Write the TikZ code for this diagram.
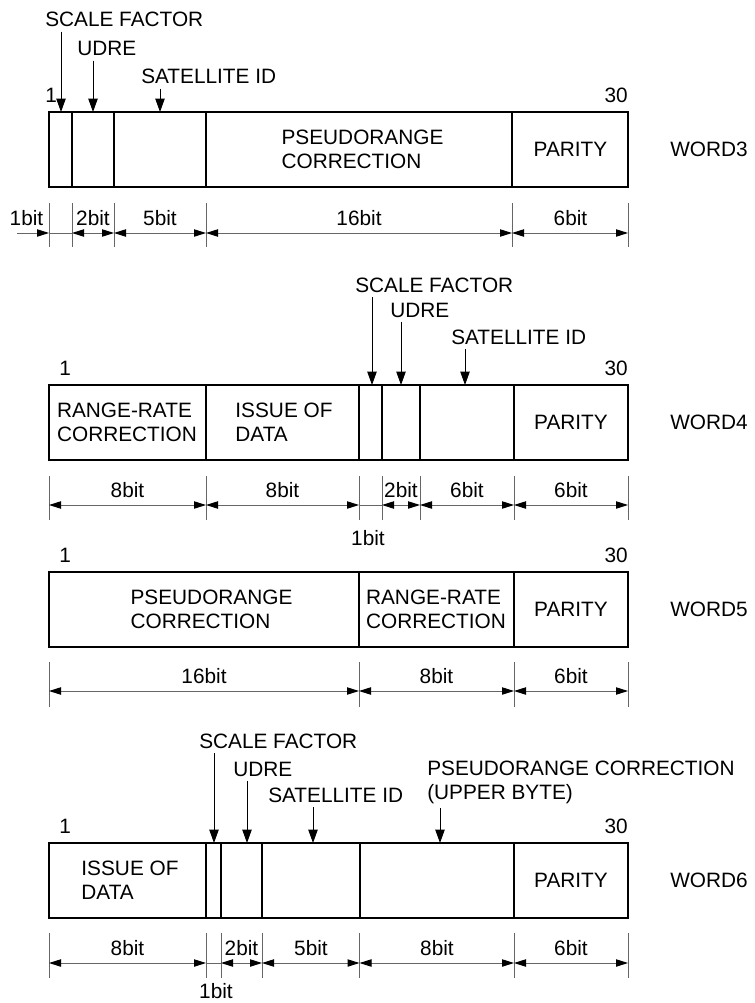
\documentclass[tikz,border=0pt]{standalone}
\usepackage{fontspec}
\setmainfont{Liberation Sans}
\usetikzlibrary{arrows.meta}
\newcommand{\wordfont}{\fontsize{15.6pt}{18pt}\selectfont}

\begin{document}
\begin{tikzpicture}[
    x=0.75pt, y=-0.75pt,
    lbl/.style={font=\wordfont, inner xsep=0pt, inner ysep=3.5pt},
    txt/.style={font=\wordfont, align=left, inner sep=0pt},
    frame/.style={line width=1.5pt},
    ptr/.style={-{Triangle[length=10pt,width=7pt]}, line width=0.75pt},
    dimline/.style={draw=black!60, line width=0.75pt},
    dim/.style={dimline, {Triangle[length=9pt,width=5.5pt,color=black]}-{Triangle[length=9pt,width=5.5pt,color=black]}},
    dimend/.style={dimline, -{Triangle[length=9pt,width=5.5pt,color=black]}},
    tick/.style={draw=black!60, line width=0.75pt}
]
\useasboundingbox (0,0) rectangle (754,1003);

% WORD3
\node[lbl, anchor=base west] (w3sf) at (45,26.5) {SCALE FACTOR};
\node[lbl, anchor=base west] (w3udre) at (77,55.5) {UDRE};
\node[lbl, anchor=base west] (w3sat) at (141,83.5) {SATELLITE ID};
\node[lbl, anchor=base west] (w3first) at (45,102) {1};
\node[lbl, anchor=base east] (w3last) at (628,102) {30};
\draw[frame] (49,112) rectangle (628,187);
\foreach \x in {72,114,206,512} \draw[frame] (\x,112) -- (\x,187);
\node[txt] (w3pr) at (362.5,149.5) {PSEUDORANGE\\CORRECTION};
\node[txt] (w3par) at (570.5,149.5) {PARITY};
\node[txt] (w3name) at (709,149.5) {WORD3};
\foreach \x/\n in {61/sf,93/udre,160/sat} {
  \coordinate (w3\n-p) at (\x,112);
  \draw[ptr] (w3\n.south -| w3\n-p) -- (w3\n-p);
}
\foreach \x [count=\i] in {49,72,114,206,512,628} {
  \draw[tick] (\x,203) -- (\x,247);
  \coordinate (w3t\i) at (\x,233);
}
\coordinate (w3in) at (17,233);
\draw[dimend] (w3in) -- (w3t1);
\draw[dimline] (w3t1) -- (w3t2);
\foreach \a/\b in {2/3,3/4,4/5,5/6} \draw[dim] (w3t\a) -- (w3t\b);
\foreach \x/\t [count=\i] in {26.5/1bit,93/2bit,160/5bit,359/16bit,570.5/6bit}
  \node[lbl, anchor=base] (w3b\i) at (\x,225.5) {\t};

% WORD4
\node[lbl, anchor=base west] (w4sf) at (355,292) {SCALE FACTOR};
\node[lbl, anchor=base west] (w4udre) at (390,317) {UDRE};
\node[lbl, anchor=base west] (w4sat) at (451,344) {SATELLITE ID};
\node[lbl, anchor=base west] (w4first) at (59,375) {1};
\node[lbl, anchor=base east] (w4last) at (628,375) {30};
\draw[frame] (49,385) rectangle (628,460);
\foreach \x in {206,359,382,420,514} \draw[frame] (\x,385) -- (\x,460);
\node[txt] (w4rr) at (127,422.5) {RANGE-RATE\\CORRECTION};
\node[txt] (w4iod) at (284,422.5) {ISSUE OF\\DATA};
\node[txt] (w4par) at (571,422.5) {PARITY};
\node[txt] (w4name) at (709,422.5) {WORD4};
\foreach \x/\n in {372/sf,401/udre,465/sat} {
  \coordinate (w4\n-p) at (\x,385);
  \draw[ptr] (w4\n.south -| w4\n-p) -- (w4\n-p);
}
\foreach \x [count=\i] in {49,206,359,382,420,514,628} {
  \draw[tick] (\x,476) -- (\x,520);
  \coordinate (w4t\i) at (\x,505);
}
\draw[dimline] (w4t3) -- (w4t4);
\foreach \a/\b in {1/2,2/3,4/5,5/6,6/7} \draw[dim] (w4t\a) -- (w4t\b);
\foreach \x/\t [count=\i] in {127.5/8bit,282.5/8bit,401/2bit,467/6bit,571/6bit}
  \node[lbl, anchor=base] (w4b\i) at (\x,497.5) {\t};
\node[lbl, anchor=base] (w4b6) at (368,545) {1bit};

% WORD5
\node[lbl, anchor=base west] (w5first) at (59,562) {1};
\node[lbl, anchor=base east] (w5last) at (628,562) {30};
\draw[frame] (49,572) rectangle (628,647);
\foreach \x in {359,514} \draw[frame] (\x,572) -- (\x,647);
\node[txt] (w5pr) at (211.5,609.5) {PSEUDORANGE\\CORRECTION};
\node[txt] (w5rr) at (436,609.5) {RANGE-RATE\\CORRECTION};
\node[txt] (w5par) at (571,609.5) {PARITY};
\node[txt] (w5name) at (709,609.5) {WORD5};
\foreach \x [count=\i] in {49,359,514,628} {
  \draw[tick] (\x,662) -- (\x,707);
  \coordinate (w5t\i) at (\x,691);
}
\foreach \a/\b in {1/2,2/3,3/4} \draw[dim] (w5t\a) -- (w5t\b);
\foreach \x/\t [count=\i] in {204/16bit,436.5/8bit,571/6bit}
  \node[lbl, anchor=base] (w5b\i) at (\x,683.5) {\t};

% WORD6
\node[lbl, anchor=base west] (w6sf) at (199,748) {SCALE FACTOR};
\node[lbl, anchor=base west] (w6udre) at (233,776) {UDRE};
\node[lbl, anchor=base west] (w6sat) at (268,802) {SATELLITE ID};
\node[lbl, anchor=base west] (w6prtop) at (427,775) {PSEUDORANGE CORRECTION};
\node[lbl, anchor=base west] (w6pr) at (427,799) {(UPPER BYTE)};
\node[lbl, anchor=base west] (w6first) at (59,833) {1};
\node[lbl, anchor=base east] (w6last) at (628,833) {30};
\draw[frame] (49,843) rectangle (628,918);
\foreach \x in {206,221,262,359.5,514} \draw[frame] (\x,843) -- (\x,918);
\node[txt] (w6iod) at (130,880.5) {ISSUE OF\\DATA};
\node[txt] (w6par) at (571,880.5) {PARITY};
\node[txt] (w6name) at (709,880.5) {WORD6};
\foreach \x/\n in {214/sf,247/udre,313/sat,440/pr} {
  \coordinate (w6\n-p) at (\x,843);
  \draw[ptr] (w6\n.south -| w6\n-p) -- (w6\n-p);
}
\foreach \x [count=\i] in {49,206,221,262,359.5,514,628} {
  \draw[tick] (\x,933) -- (\x,978);
  \coordinate (w6t\i) at (\x,963);
}
\draw[dimline] (w6t2) -- (w6t3);
\foreach \a/\b in {1/2,3/4,4/5,5/6,6/7} \draw[dim] (w6t\a) -- (w6t\b);
\foreach \x/\t [count=\i] in {127.5/8bit,241.5/2bit,311/5bit,437/8bit,571/6bit}
  \node[lbl, anchor=base] (w6b\i) at (\x,955.5) {\t};
\node[lbl, anchor=base] (w6b6) at (216,998) {1bit};
\end{tikzpicture}
\end{document}
